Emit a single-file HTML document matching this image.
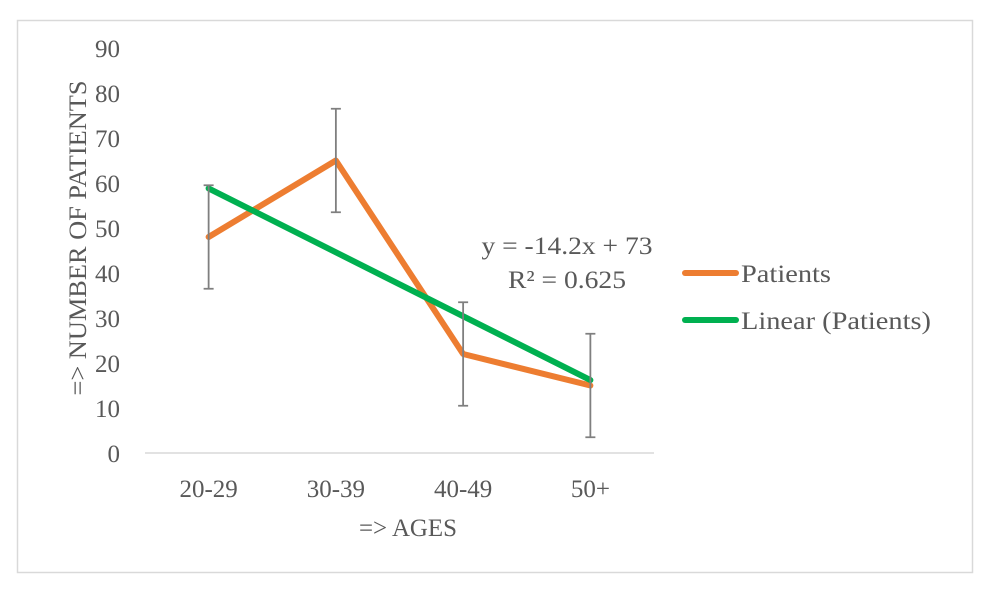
<!DOCTYPE html>
<html><head><meta charset="utf-8"><style>
body{margin:0;background:#fff;}
svg text{font-family:"Liberation Serif",serif;fill:#595959;}
</style></head><body>
<svg width="992" height="590" xmlns="http://www.w3.org/2000/svg">
<rect x="17.5" y="20.5" width="955" height="552" fill="#fff" stroke="#d9d9d9" stroke-width="1.5"/>
<g id="plot"></g>
<text x="86" y="238" font-size="25" text-anchor="middle" textLength="315" lengthAdjust="spacingAndGlyphs" transform="rotate(-90 86 238)">=&gt; NUMBER  OF PATIENTS</text>
<text x="408" y="536" font-size="25" text-anchor="middle" textLength="98" lengthAdjust="spacingAndGlyphs">=&gt; AGES</text>
<text x="567" y="254" font-size="25" text-anchor="middle" textLength="171" lengthAdjust="spacingAndGlyphs">y = -14.2x + 73</text>
<text x="567" y="288" font-size="25" text-anchor="middle" textLength="118" lengthAdjust="spacingAndGlyphs">R² = 0.625</text>
<g><line x1="685" y1="273" x2="736" y2="273" stroke="#ed7d31" stroke-width="6" stroke-linecap="round"/><text x="741" y="282" font-size="25" textLength="90" lengthAdjust="spacingAndGlyphs">Patients</text></g>
<g><line x1="685" y1="320" x2="736" y2="320" stroke="#00b050" stroke-width="6" stroke-linecap="round"/><text x="741" y="329" font-size="25" textLength="190" lengthAdjust="spacingAndGlyphs">Linear (Patients)</text></g>
</svg>
<script>
const categories=["20-29","30-39","40-49","50+"];
const values=[48,65,22,15];
const errors=[11.5,11.5,11.5,11.5];
const yTicks=[0,10,20,30,40,50,60,70,80,90];
const slope=-14.2, intercept=73;
const NS="http://www.w3.org/2000/svg";
const g=document.getElementById('plot');
const x0=145,x1=654,yBase=453,pxPer=4.5;
const xs=i=>x0+(x1-x0)*(i+0.5)/categories.length;
const ys=v=>yBase-v*pxPer;
function mk(t,a){const e=document.createElementNS(NS,t);for(const k in a)e.setAttribute(k,a[k]);g.appendChild(e);return e;}
yTicks.forEach(t=>{const e=mk('text',{x:120,y:ys(t)+9,'font-size':25,'text-anchor':'end'});e.textContent=t;

});
const ax=mk('line',{x1:x0,y1:yBase,x2:x1,y2:yBase,stroke:'#d9d9d9','stroke-width':1.5});


categories.forEach((c,i)=>{const e=mk('text',{x:xs(i),y:497,'font-size':25,'text-anchor':'middle'});e.textContent=c;

});
const pts=values.map((v,i)=>xs(i)+','+ys(v)).join(' ');
const line=mk('polyline',{points:pts,fill:'none',stroke:'#ed7d31','stroke-width':6,'stroke-linejoin':'round','stroke-linecap':'round'});


const tr=mk('line',{x1:xs(0),y1:ys(slope*1+intercept),x2:xs(categories.length-1),y2:ys(slope*categories.length+intercept),stroke:'#00b050','stroke-width':6,'stroke-linecap':'round'});


values.forEach((v,i)=>{const x=xs(i),t=ys(v+errors[i]),b=ys(v-errors[i]);
const e=mk('path',{d:`M${x},${t}V${b}M${x-5},${t}H${x+5}M${x-5},${b}H${x+5}`,stroke:'#7f7f7f','stroke-width':1.8,fill:'none'});

});
</script>
</body></html>
